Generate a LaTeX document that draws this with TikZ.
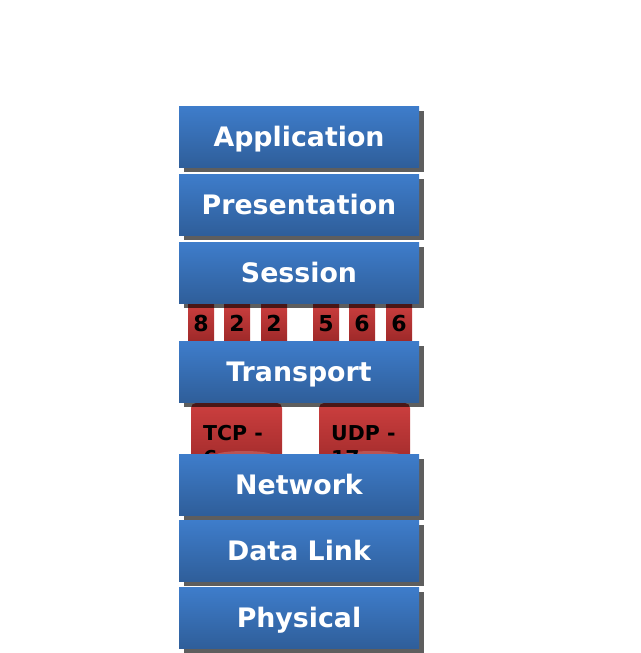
\documentclass[tikz,border=0pt]{standalone}
\usepackage{fontspec}
\setmainfont{DejaVu Sans}
\usetikzlibrary{shadows}
\definecolor{layertop}{HTML}{3E7DCB}
\definecolor{layerbot}{HTML}{2F5E9A}
\definecolor{redtop}{HTML}{CC3F3F}
\definecolor{redbot}{HTML}{9E2929}
\begin{document}
\begin{tikzpicture}[x=1pt,y=-1pt,
    layer/.style={minimum width=240pt,minimum height=61pt,inner sep=0pt,
      top color=layertop,bottom color=layerbot,text=white,
      text height=25pt,text depth=5pt,
      font=\fontsize{26.8}{30}\selectfont\bfseries,
      general shadow={fill=black,opacity=.63,shadow xshift=5pt,shadow yshift=-5pt}},
    portbox/.style={minimum width=26pt,minimum height=38pt,inner sep=0pt,
      text height=19pt,text depth=0pt,
      top color=redtop,bottom color=redbot,font=\fontsize{22}{24}\selectfont\bfseries},
    protolabel/.style={anchor=north west,inner sep=0pt,align=left,
      font=\fontsize{20.5}{25}\selectfont\bfseries}]
    \useasboundingbox (0,0) rectangle (640,653);
    % port numbers between session and transport
    \foreach \px/\digit [count=\i] in {201/8,237/2,274/2,326/5,362/6,399/6}
        \node[portbox] (p\i) at (\px,322) {\digit};
    % protocol cylinders
    \shade[top color=redtop,bottom color=redbot,rounded corners=5pt] (191,470) -- (191,403) -- (282,403) -- (282,470) -- cycle;
    \shade[top color=redtop,bottom color=redbot,rounded corners=5pt] (319,470) -- (319,403) -- (410,403) -- (410,470) -- cycle;
    \fill[white,opacity=.18] (244,455) ellipse[x radius=28,y radius=4];
    \fill[white,opacity=.18] (372,455) ellipse[x radius=28,y radius=4];
    \node[protolabel] (tcp) at (203,425) {TCP -\\6};
    \node[protolabel] (udp) at (331,425) {UDP -\\17};
    % layers
    \node[layer] (app) at (299,136.5) {Application};
    \node[layer] (pres) at (299,204.5) {Presentation};
    \node[layer] (sess) at (299,272.5) {Session};
    \node[layer] (trans) at (299,371.5) {Transport};
    \node[layer] (net) at (299,484.5) {Network};
    \node[layer] (link) at (299,550.5) {Data Link};
    \node[layer] (phys) at (299,617.5) {Physical};
\end{tikzpicture}
\end{document}
